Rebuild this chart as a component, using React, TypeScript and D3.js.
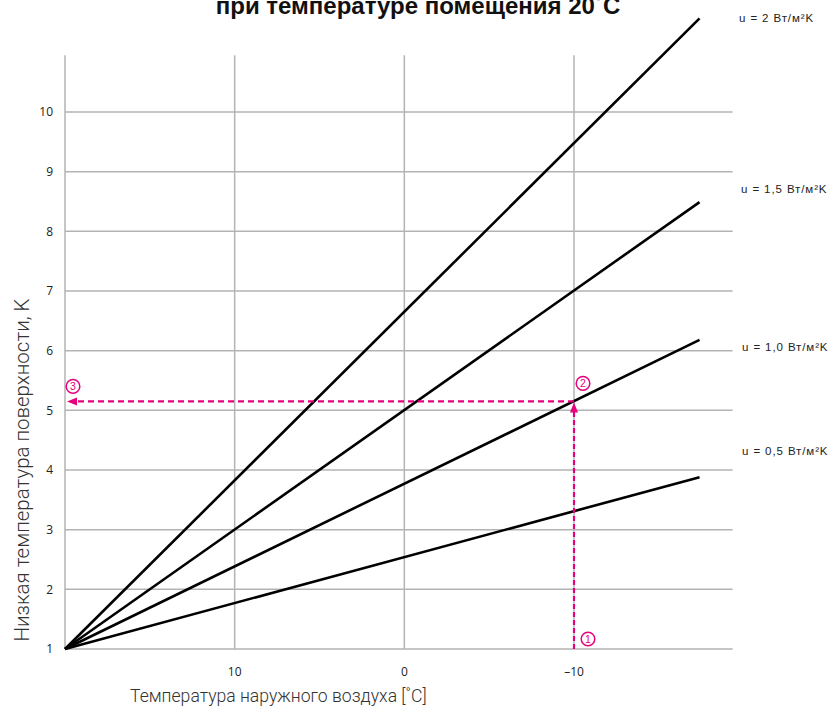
import React from 'react';
import { scaleLinear, line } from 'd3';

// room temperature 20 °C, lines start at (20, 1)
const startTemp = 20;
const endTemp = -17.4;
const startK = 1;

const uValues = [0.5, 1.0, 1.5, 2.0];
const uLabels = ['u = 0,5 Вт/м²K', 'u = 1,0 Вт/м²K', 'u = 1,5 Вт/м²K', 'u = 2 Вт/м²K'];
const endK = [3.88, 6.18, 8.49, 11.57];

const xTicks = [10, 0, -10];
const xTickLabels = ['10', '0', '–10'];
const yTicks = [1, 2, 3, 4, 5, 6, 7, 8, 9, 10];

// worked example: -10 °C outside, u = 1,0 -> 5,15 K
const exampleTemp = -10;
const exampleK = 5.15;

const title = 'при температуре помещения 20˚C';
const xTitle = 'Температура наружного воздуха [˚C]';
const yTitle = 'Низкая температура поверхности, K';

const PINK = '#e5007d';
const GRID = '#b3b3b3';

export default function App() {
  const width = 832;
  const height = 709;

  const x = scaleLinear().domain([20, -10]).range([65, 574]);
  const y = scaleLinear().domain([1, 10]).range([649, 112]);

  const gridRight = x(-19.35);
  const gridTop = y(10.95);

  const lineGen = line<[number, number]>()
    .x(d => x(d[0]))
    .y(d => y(d[1]));

  // label baseline offsets from line ends (layout only)
  const labelDy = [-22, 11, -9, 4];
  const labelX = [742, 742, 741, 739];

  const ex = x(exampleTemp);
  const ey = y(exampleK);

  const circled = [
    { n: '1', cx: ex + 14, cy: y(1) - 10 },
    { n: '2', cx: ex + 9, cy: ey - 18 },
    { n: '3', cx: x(20) + 8, cy: ey - 15 },
  ];

  return (
    <svg
      width={width}
      height={height}
      style={{ position: 'absolute', left: 0, top: 0, background: '#fff' }}
    >
      <text
        x={418}
        y={14}
        textAnchor="middle"
        fontFamily="'Liberation Sans', Arial, sans-serif"
        fontWeight="bold"
        fontSize={24}
        fill="#111"
      >
        {title}
      </text>

      {/* horizontal grid */}
      {yTicks.map(t => (
        <line key={'h' + t} x1={x(20)} x2={gridRight} y1={y(t)} y2={y(t)} stroke={GRID} strokeWidth={1.5} />
      ))}
      {/* vertical grid + y axis */}
      {[20, ...xTicks].map(t => (
        <line key={'v' + t} x1={x(t)} x2={x(t)} y1={gridTop} y2={y(1)} stroke={GRID} strokeWidth={1.5} />
      ))}

      {/* y tick labels */}
      {yTicks.map(t => (
        <text
          key={'yl' + t}
          x={53}
          y={y(t)}
          dy="0.35em"
          textAnchor="end"
          fontFamily="'Open Sans', sans-serif"
          fontSize={12}
          fill="#222"
        >
          {t}
        </text>
      ))}
      {/* x tick labels */}
      {xTicks.map((t, i) => (
        <text
          key={'xl' + t}
          x={x(t)}
          y={676}
          textAnchor="middle"
          fontFamily="'Open Sans', sans-serif"
          fontSize={12}
          fill="#222"
        >
          {xTickLabels[i]}
        </text>
      ))}

      {/* u lines */}
      {uValues.map((u, i) => (
        <path
          key={'u' + u}
          d={lineGen([[startTemp, startK], [endTemp, endK[i]]]) || ''}
          fill="none"
          stroke="#000"
          strokeWidth={2.6}
        />
      ))}
      {uValues.map((u, i) => (
        <text
          key={'ul' + u}
          x={labelX[i]}
          y={y(endK[i]) + labelDy[i]}
          fontFamily="'Liberation Sans', Arial, sans-serif"
          fontSize={11.5}
          letterSpacing={0.9}
          fill="#222"
        >
          {uLabels[i]}
        </text>
      ))}

      {/* example path */}
      <line x1={ex} x2={ex} y1={y(1)} y2={ey + 9} stroke={PINK} strokeWidth={2.2} strokeDasharray="5 3" />
      <path d={`M${ex},${ey + 1} L${ex - 4},${ey + 11} L${ex + 4},${ey + 11} Z`} fill={PINK} />
      <line x1={ex} x2={x(20) + 10} y1={ey} y2={ey} stroke={PINK} strokeWidth={2.2} strokeDasharray="6 4" />
      <path d={`M${x(20) + 2},${ey} L${x(20) + 12},${ey - 4} L${x(20) + 12},${ey + 4} Z`} fill={PINK} />
      {circled.map(c => (
        <g key={'c' + c.n}>
          <circle cx={c.cx} cy={c.cy} r={6.8} fill="#fff" stroke={PINK} strokeWidth={1.5} />
          <text
            x={c.cx}
            y={c.cy}
            dy="0.36em"
            textAnchor="middle"
            fontFamily="'Liberation Sans', Arial, sans-serif"
            fontSize={10.5}
            fill={PINK}
          >
            {c.n}
          </text>
        </g>
      ))}

      {/* axis titles */}
      <text
        x={130}
        y={702}
        fontFamily="Roboto, sans-serif"
        fontWeight={300}
        fontSize={17.6}
        fill="#333"
      >
        {xTitle}
      </text>
      <text
        transform={`translate(29,${470}) rotate(-90)`}
        textAnchor="middle"
        fontFamily="Roboto, sans-serif"
        fontWeight={300}
        fontSize={20.5}
        fill="#333"
      >
        {yTitle}
      </text>
    </svg>
  );
}
